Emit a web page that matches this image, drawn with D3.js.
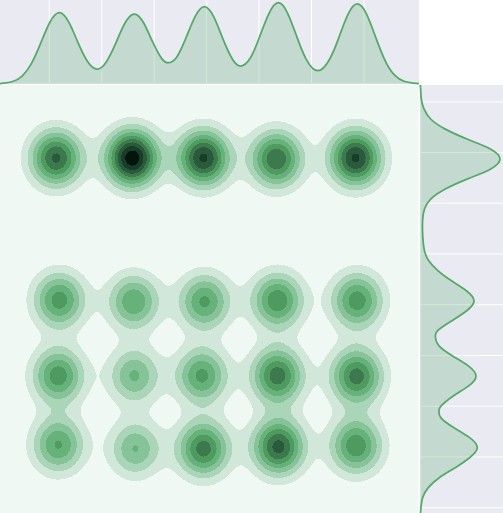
<!DOCTYPE html>
<html lang="en">
<head>
<meta charset="utf-8">
<title>Joint KDE</title>
<script src="https://cdn.jsdelivr.net/npm/d3@7"></script>
<style>
  html, body { margin: 0; padding: 0; background: #fff; overflow: hidden; }
  svg { display: block; }
</style>
</head>
<body>
<div id="chart"></div>
<script>
// cluster centres and peak heights
var clusterX = [0.13, 1.58, 2.94, 4.33, 5.84,
                0.19, 1.61, 2.96, 4.35, 5.87,
                0.17, 1.62, 2.91, 4.35, 5.86,
                0.17, 1.64, 2.94, 4.37, 5.85];
var clusterY = [6.89, 6.89, 6.89, 6.87, 6.89,
                4.09, 4.06, 4.06, 4.08, 4.08,
                2.60, 2.60, 2.60, 2.60, 2.59,
                1.24, 1.16, 1.16, 1.20, 1.22];
var clusterPeak = [0.72, 0.97, 0.82, 0.69, 0.82,
                   0.55, 0.49, 0.52, 0.58, 0.56,
                   0.56, 0.415, 0.53, 0.66, 0.65,
                   0.51, 0.405, 0.65, 0.74, 0.58];
var levels = [0.1, 0.2, 0.3, 0.4, 0.5, 0.6, 0.7, 0.8, 0.9];

// marginal curves
var topX = [-0.941, -0.877, -0.70, -0.52, -0.34, -0.165, 0.013, 0.19, 0.369, 0.547, 0.725, 0.903, 1.08, 1.265, 1.443, 1.621, 1.8, 1.977, 2.155, 2.276, 2.422, 2.6, 2.78, 2.956, 3.134, 3.312, 3.49, 3.649, 3.833, 4.011, 4.19, 4.368, 4.545, 4.724, 4.9, 5.118, 5.34, 5.518, 5.696, 5.874, 6.052, 6.23, 6.408, 6.586, 6.764, 6.942, 7.05];
var topDensity = [.001, .006, .027, .094, .25, .50, .761, .877, .763, .506, .276, .181, .263, .498, .749, .86, .749, .506, .30, .259, .321, .556, .827, .951, .827, .551, .305, .218, .317, .58, .868, 1.0, .868, .572, .30, .16, .296, .563, .856, .984, .856, .563, .28, .105, .03, .007, .002];
var rightY = [8.33, 8.25, 8.05, 7.86, 7.66, 7.46, 7.26, 7.07, 6.87, 6.67, 6.48, 6.28, 6.08, 5.89, 5.67, 5.34, 5.08, 4.88, 4.68, 4.49, 4.27, 4.07, 3.88, 3.68, 3.48, 3.34, 3.19, 2.99, 2.79, 2.59, 2.40, 2.2, 2.0, 1.9, 1.77, 1.58, 1.38, 1.18, 0.985, 0.788, 0.591, 0.394, 0.197, 0, -0.105];
var rightDensity = [0, .004, .013, .046, .13, .314, .594, .879, 1.0, .879, .594, .314, .13, .054, .029, .031, .05, .10, .213, .372, .582, .674, .582, .393, .213, .192, .234, .406, .607, .699, .607, .414, .259, .234, .259, .418, .619, .715, .619, .439, .238, .10, .029, .008, .002];

var xTicks = [0, 1, 2, 3, 4, 5, 6];
var yTicks = [0, 1, 2, 3, 4, 5, 6, 7, 8];

var bandColors = ["#eff8f2", "#d1e7da", "#abd5b8", "#87c398", "#67b17a", "#4e9a60", "#3c7a4e", "#2a5a3c", "#183d28", "#04150c"];
var lineColor = "#55a868";
var panelColor = "#eaeaf2";

var W = 503, H = 513;
var jointRight = 419, jointTop = 85, topBase = 83.7, rightLeft = 420.3;
var sigmaX = 0.34, sigmaY = 0.38;

var x = d3.scaleLinear().domain([-0.941, 7.05]).range([0, jointRight]);
var y = d3.scaleLinear().domain([-0.105, 8.33]).range([H, jointTop]);
var topScale = d3.scaleLinear().domain([0, 1.033]).range([topBase, 0]);
var rightScale = d3.scaleLinear().domain([0, 1]).range([rightLeft, 500]);

var svg = d3.select("#chart").append("svg").attr("width", W).attr("height", H);

// panels
svg.append("rect").attr("x", 0).attr("y", 0).attr("width", jointRight).attr("height", topBase).attr("fill", panelColor);
svg.append("rect").attr("x", rightLeft).attr("y", jointTop).attr("width", W - rightLeft).attr("height", H - jointTop).attr("fill", panelColor);
svg.append("rect").attr("x", 0).attr("y", jointTop).attr("width", jointRight - 0.5).attr("height", H - jointTop).attr("fill", bandColors[0]);

// grid lines of the marginals
svg.selectAll(".gx").data(xTicks).enter().append("line")
  .attr("x1", function(d) { return x(d); }).attr("x2", function(d) { return x(d); })
  .attr("y1", 0).attr("y2", topBase).attr("stroke", "#fff").attr("stroke-width", 1);
svg.selectAll(".gy").data(yTicks).enter().append("line")
  .attr("y1", function(d) { return y(d); }).attr("y2", function(d) { return y(d); })
  .attr("x1", rightLeft).attr("x2", W).attr("stroke", "#fff").attr("stroke-width", 1);

// density grid for the joint panel
var nx = jointRight, ny = H - jointTop;
var gridX = d3.scaleLinear().domain([0, nx]).range(x.domain());
var gridY = d3.scaleLinear().domain([0, ny]).range([y.domain()[1], y.domain()[0]]);
var values = new Float64Array(nx * ny);
for (var j = 0; j < ny; j++) {
  for (var i = 0; i < nx; i++) {
    var vx = gridX(i + 0.5), vy = gridY(j + 0.5), sum = 0;
    for (var c = 0; c < clusterX.length; c++) {
      var dx = (vx - clusterX[c]) / sigmaX, dy = (vy - clusterY[c]) / sigmaY;
      sum += clusterPeak[c] * Math.exp(-0.5 * (dx * dx + dy * dy));
    }
    values[j * nx + i] = sum;
  }
}

var contours = d3.contours().size([nx, ny]).smooth(true).thresholds(levels)(values);
var proj = d3.geoTransform({
  point: function(px, py) { this.stream.point(x(gridX(px)), y(gridY(py))); }
});
var path = d3.geoPath(proj);

svg.append("g").selectAll("path").data(contours).enter().append("path")
  .attr("d", path)
  .attr("shape-rendering", "crispEdges")
  .attr("fill", function(d, i) { return bandColors[i + 1]; });

// top marginal
var topPts = d3.zip(topX, topDensity);
var topLine = d3.line().x(function(d) { return x(d[0]); }).y(function(d) { return topScale(d[1]); }).curve(d3.curveNatural);
var topArea = d3.area().x(function(d) { return x(d[0]); }).y0(topScale(0)).y1(function(d) { return topScale(d[1]); }).curve(d3.curveNatural);
svg.append("path").datum(topPts).attr("d", topArea).attr("fill", lineColor).attr("fill-opacity", 0.25);
svg.append("path").datum(topPts).attr("d", topLine).attr("fill", "none").attr("stroke", lineColor).attr("stroke-width", 1.75);

// right marginal
var rightPts = d3.zip(rightDensity, rightY);
var rightLine = d3.line().x(function(d) { return rightScale(d[0]); }).y(function(d) { return y(d[1]); }).curve(d3.curveNatural);
var rightArea = d3.area().y(function(d) { return y(d[1]); }).x0(rightScale(0)).x1(function(d) { return rightScale(d[0]); }).curve(d3.curveNatural);
svg.append("path").datum(rightPts).attr("d", rightArea).attr("fill", lineColor).attr("fill-opacity", 0.25);
svg.append("path").datum(rightPts).attr("d", rightLine).attr("fill", "none").attr("stroke", lineColor).attr("stroke-width", 1.75);
</script>
</body>
</html>
